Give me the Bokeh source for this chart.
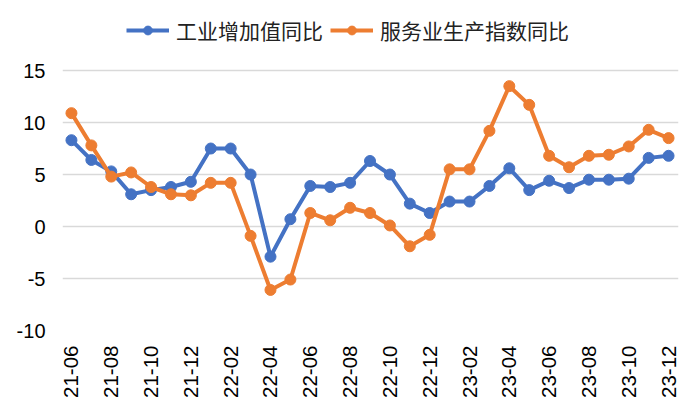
from bokeh.plotting import figure
from bokeh.models import Range1d, FixedTicker, Legend, LegendItem, ColumnDataSource
from bokeh.embed import file_html
from bokeh.resources import INLINE
import math

months = ["21-06", "21-07", "21-08", "21-09", "21-10", "21-11", "21-12",
          "22-01", "22-02", "22-03", "22-04", "22-05", "22-06", "22-07",
          "22-08", "22-09", "22-10", "22-11", "22-12",
          "23-01", "23-02", "23-03", "23-04", "23-05", "23-06", "23-07",
          "23-08", "23-09", "23-10", "23-11", "23-12"]
industry = [8.3, 6.4, 5.3, 3.1, 3.5, 3.8, 4.3, 7.5, 7.5, 5.0, -2.9, 0.7,
            3.9, 3.8, 4.2, 6.3, 5.0, 2.2, 1.3, 2.4, 2.4, 3.9, 5.6, 3.5,
            4.4, 3.7, 4.5, 4.5, 4.6, 6.6, 6.8]
services = [10.9, 7.8, 4.8, 5.2, 3.8, 3.1, 3.0, 4.2, 4.2, -0.9, -6.1, -5.1,
            1.3, 0.6, 1.8, 1.3, 0.1, -1.9, -0.8, 5.5, 5.5, 9.2, 13.5, 11.7,
            6.8, 5.7, 6.8, 6.9, 7.7, 9.3, 8.5]
series_names = ["工业增加值同比", "服务业生产指数同比"]
y_ticks = [-10, -5, 0, 5, 10, 15]

xs = list(range(len(months)))
src = ColumnDataSource(dict(x=xs, ind=industry, srv=services))

# frame extends above the top gridline to leave room for the legend
p = figure(width=692, height=412, output_backend="svg", toolbar_location=None,
           x_range=Range1d(-0.45, len(months) - 0.5), y_range=Range1d(-10, 21.35),
           min_border_left=62, min_border_right=14, min_border_top=4,
           min_border_bottom=82)
p.outline_line_color = None
p.background_fill_color = "white"
p.border_fill_color = "white"

blue = "#4472C4"
orange = "#ED7D31"

l1 = p.line("x", "ind", source=src, line_color=blue, line_width=4)
c1 = p.scatter("x", "ind", source=src, size=11, fill_color=blue, line_color=blue)
l2 = p.line("x", "srv", source=src, line_color=orange, line_width=4)
c2 = p.scatter("x", "srv", source=src, size=11, fill_color=orange, line_color=orange)

p.xgrid.grid_line_color = None
p.ygrid.grid_line_color = "#D9D9D9"
p.ygrid.grid_line_width = 1.5
p.yaxis.ticker = FixedTicker(ticks=y_ticks)
p.yaxis.major_label_overrides = {t: str(t) for t in y_ticks}
p.xaxis.ticker = FixedTicker(ticks=xs[::2])
p.xaxis.major_label_overrides = {i: months[i] for i in xs[::2]}
p.xaxis.major_label_orientation = math.pi / 2

for ax in (p.xaxis[0], p.yaxis[0]):
    ax.axis_line_color = None
    ax.major_tick_line_color = None
    ax.minor_tick_line_color = None
    ax.major_label_text_font = "Liberation Sans"
    ax.major_label_text_color = "#000000"
p.yaxis.major_label_text_font_size = "20px"
p.xaxis.major_label_text_font_size = "20.5px"
p.yaxis.major_label_standoff = 11
p.xaxis.major_label_standoff = 9

legend = Legend(items=[LegendItem(label=series_names[0], renderers=[l1, c1]),
                       LegendItem(label=series_names[1], renderers=[l2, c2])],
                orientation="horizontal", location=(64, 285),
                padding=0, margin=0, spacing=7, glyph_width=43, glyph_height=22,
                label_standoff=7, label_text_font="Noto Sans CJK SC",
                label_text_font_size="21px", label_text_color="#222222",
                border_line_color=None, background_fill_alpha=0)
p.add_layout(legend, "center")

open("out.html", "w").write(file_html(p, INLINE))
